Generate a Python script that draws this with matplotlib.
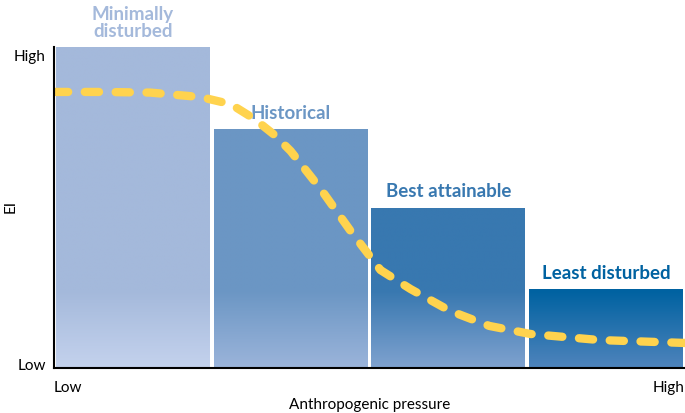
import numpy as np
import matplotlib
matplotlib.use("Agg")
import matplotlib.pyplot as plt
from matplotlib.colors import to_rgb

plt.rcParams['font.family'] = ['Lato', 'DejaVu Sans']

# reference states (bars)
labels = ['Minimally\ndisturbed', 'Historical', 'Best attainable', 'Least disturbed']
ei_values = [1.0, 0.745, 0.50, 0.246]
top_colors = ['#A4B9DB', '#6B96C4', '#3878B0', '#0062A1']
bottom_colors = ['#C4D2ED', '#9BB4DA', '#7FA2CF', '#4F84BC']

# EI response along the pressure gradient (dashed curve)
pressure = [0.0, 0.3, 0.61, 0.93, 1.12, 1.27, 1.40, 1.50, 1.69, 1.88, 2.07,
            2.26, 2.51, 2.76, 3.02, 3.46, 4.0]
ei_curve = [0.860, 0.860, 0.858, 0.844, 0.822, 0.776, 0.725, 0.676, 0.558,
            0.427, 0.305, 0.246, 0.178, 0.131, 0.106, 0.087, 0.078]

fig = plt.figure(figsize=(6.85, 4.14), dpi=100)
ax = fig.add_axes([54 / 685, 45 / 414, 631 / 685, 321 / 414])
ax.set_xlim(0, 4)
ax.set_ylim(0, 1)

xs = np.arange(len(ei_values)) + 0.5
width = 0.975
grad_top = 0.24  # gradient only in the lower part
for x, h, c1, c2, lab in zip(xs, ei_values, top_colors, bottom_colors, labels):
    bar = ax.bar(x, h, width=width, color=c1, edgecolor='none', zorder=1)[0]
    yy = np.linspace(0, h, 200)
    t = np.clip(yy / grad_top, 0, 1)[:, None]
    img = (1 - t) * np.array(to_rgb(c2)) + t * np.array(to_rgb(c1))
    im = ax.imshow(img[:, None, :], extent=(x - width / 2, x + width / 2, 0, h),
                   origin='lower', aspect='auto', zorder=2, interpolation='bilinear')
    im.set_clip_path(bar)
    ax.annotate(lab, (x, h), xytext=(0, 6), textcoords='offset points',
                ha='center', va='bottom', color=c1, fontsize=13.5,
                fontweight='bold', linespacing=1.0)

line, = ax.plot(pressure, ei_curve, color='#FFD34E', lw=6, zorder=3,
                dash_capstyle='round', solid_capstyle='round')
line.set_dashes([1.7, 2.0])

for s in ['top', 'right']:
    ax.spines[s].set_visible(False)
for s in ['left', 'bottom']:
    ax.spines[s].set_linewidth(1.5)
    ax.spines[s].set_zorder(5)

ax.set_yticks([0.015, 0.978])
ax.set_yticklabels(['Low', 'High'], fontsize=11)
ax.set_xticks([0, 4])
xt = ax.set_xticklabels(['Low', 'High'], fontsize=11)
xt[0].set_ha('left')
xt[1].set_ha('right')
ax.tick_params(length=0, pad=6)
ax.tick_params(axis='x', pad=9)

# y label sits close to the figure edge
fig.text(11 / 685, 0.5, 'EI', rotation=90, ha='center', va='center', fontsize=11)
ax.set_xlabel('Anthropogenic pressure', fontsize=11, labelpad=2)

fig.savefig('out.png', dpi=100)
